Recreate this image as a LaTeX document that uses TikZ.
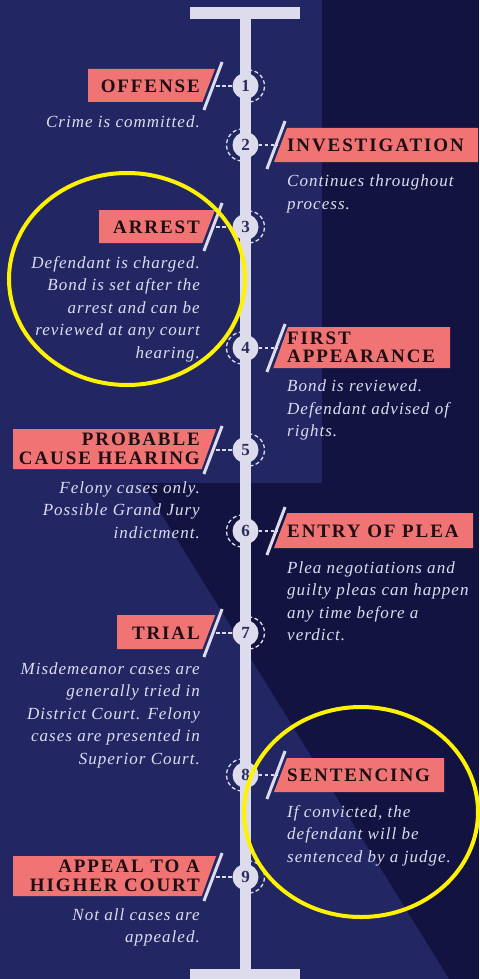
\documentclass[tikz,border=0pt]{standalone}
\usepackage{fontspec}
\setmainfont{Liberation Serif}
\newfontfamily\headfont[LetterSpace=10]{Liberation Serif}
\newfontfamily\descfont[LetterSpace=6]{Liberation Serif}
\definecolor{bgdark}{RGB}{18,19,64}
\definecolor{bglight}{RGB}{34,39,99}
\definecolor{salmon}{RGB}{240,116,116}
\definecolor{lav}{RGB}{220,220,236}
\definecolor{headtxt}{RGB}{30,14,20}
\definecolor{numtxt}{RGB}{42,44,94}
\definecolor{desctxt}{RGB}{221,221,240}
\definecolor{hiyellow}{RGB}{255,242,0}

\begin{document}
\begin{tikzpicture}[x=1pt, y=-1pt,
    stepnum/.style={circle, fill=lav, minimum size=26pt, inner sep=0pt, text=numtxt, font=\fontsize{17}{17}\selectfont\bfseries},
    ring/.style={draw=lav, line width=1.3pt, dash pattern=on 4pt off 2.5pt},
    link/.style={draw=lav, line width=1.4pt, dash pattern=on 3.5pt off 2.5pt},
    slashbar/.style={draw=lav, line width=3pt},
    headleft/.style={anchor=east, inner sep=0pt, align=right, text=headtxt, font=\headfont\fontsize{19}{18.5}\selectfont\bfseries},
    headright/.style={headleft, anchor=west, align=left},
    descleft/.style={anchor=north east, inner sep=0pt, align=right, text=desctxt, font=\descfont\fontsize{17}{22.5}\selectfont\itshape},
    descright/.style={descleft, anchor=north west, align=left},
    markring/.style={draw=hiyellow, line width=4pt}]
    \useasboundingbox (0,0) rectangle (479,979);

    % Background
    \fill[bgdark] (0,0) rectangle (479,979);
    \fill[bglight] (0,0) rectangle (322,483);
    \fill[bglight] (0,483) -- (142,483) -- (449,979) -- (0,979) -- cycle;

    % Timeline bar
    \fill[lav] (190,7) rectangle (300,19);
    \fill[lav] (240,19) rectangle (251,970);
    \fill[lav] (190,969) rectangle (300,979);

    % Boxes (left side)
    \fill[salmon] (88,69) -- (215,69) -- (202.4,102) -- (88,102) -- cycle;
    \fill[salmon] (99,210) -- (215,210) -- (202.4,243) -- (99,243) -- cycle;
    \fill[salmon] (13,429) -- (216.1,429) -- (201.7,469) -- (13,469) -- cycle;
    \fill[salmon] (117,615) -- (215.3,615) -- (202.4,649) -- (117,649) -- cycle;
    \fill[salmon] (13,856) -- (216.1,856) -- (201.7,896) -- (13,896) -- cycle;

    % Boxes (right side)
    \fill[salmon] (287,128) -- (478,128) -- (478,162) -- (274,162) -- cycle;
    \fill[salmon] (288.1,327) -- (450,327) -- (450,368) -- (273.3,368) -- cycle;
    \fill[salmon] (287.3,513) -- (473,513) -- (473,548) -- (274,548) -- cycle;
    \fill[salmon] (287,758) -- (444,758) -- (444,792) -- (274,792) -- cycle;

    % Slashes
    \draw[slashbar] (203.9,110) -- (222.1,62);
    \draw[slashbar] (266.9,169) -- (285.1,121);
    \draw[slashbar] (203.9,251) -- (222.1,203);
    \draw[slashbar] (266.9,372) -- (285.1,324);
    \draw[slashbar] (203.9,474) -- (222.1,426);
    \draw[slashbar] (266.9,555) -- (285.1,507);
    \draw[slashbar] (203.9,657) -- (222.1,609);
    \draw[slashbar] (266.9,799) -- (285.1,751);
    \draw[slashbar] (203.9,901) -- (222.1,853);

    % Steps
    \node[stepnum] (c1) at (245.5,86) {1};
    \node[stepnum] (c2) at (245.5,145) {2};
    \node[stepnum] (c3) at (245.5,227) {3};
    \node[stepnum] (c4) at (245.5,348) {4};
    \node[stepnum] (c5) at (245.5,450) {5};
    \node[stepnum] (c6) at (245.5,531) {6};
    \node[stepnum] (c7) at (245.5,633) {7};
    \node[stepnum] (c8) at (245.5,775) {8};
    \node[stepnum] (c9) at (245.5,877) {9};

    % Dashed rings
    \draw[ring] ([xshift=3pt]c1.center) ++(110:16) arc[start angle=110, end angle=-110, radius=16];
    \draw[ring] ([xshift=-3pt]c2.center) ++(70:16) arc[start angle=70, end angle=290, radius=16];
    \draw[ring] ([xshift=3pt]c3.center) ++(110:16) arc[start angle=110, end angle=-110, radius=16];
    \draw[ring] ([xshift=-3pt]c4.center) ++(70:16) arc[start angle=70, end angle=290, radius=16];
    \draw[ring] ([xshift=3pt]c5.center) ++(110:16) arc[start angle=110, end angle=-110, radius=16];
    \draw[ring] ([xshift=-3pt]c6.center) ++(70:16) arc[start angle=70, end angle=290, radius=16];
    \draw[ring] ([xshift=3pt]c7.center) ++(110:16) arc[start angle=110, end angle=-110, radius=16];
    \draw[ring] ([xshift=-3pt]c8.center) ++(70:16) arc[start angle=70, end angle=290, radius=16];
    \draw[ring] ([xshift=3pt]c9.center) ++(110:16) arc[start angle=110, end angle=-110, radius=16];

    % Connectors
    \coordinate (k1) at (216,86);
    \coordinate (k2) at (277,145);
    \coordinate (k3) at (216,227);
    \coordinate (k4) at (277,348);
    \coordinate (k5) at (216,450);
    \coordinate (k6) at (277,531);
    \coordinate (k7) at (216,633);
    \coordinate (k8) at (277,775);
    \coordinate (k9) at (216,877);
    \draw[link] (k1) -- (c1);
    \draw[link] (c2) -- (k2);
    \draw[link] (k3) -- (c3);
    \draw[link] (c4) -- (k4);
    \draw[link] (k5) -- (c5);
    \draw[link] (c6) -- (k6);
    \draw[link] (k7) -- (c7);
    \draw[link] (c8) -- (k8);
    \draw[link] (k9) -- (c9);

    % Labels
    \node[headleft] (h1) at (200,86) {OFFENSE};
    \node[headright] (h2) at (287,145) {INVESTIGATION};
    \node[headleft] (h3) at (200,227) {ARREST};
    \node[headright] (h4) at (287,347.5) {FIRST\\APPEARANCE};
    \node[headleft] (h5) at (200,449) {PROBABLE\\CAUSE HEARING};
    \node[headright] (h6) at (287,531) {ENTRY OF PLEA};
    \node[headleft] (h7) at (200,633) {TRIAL};
    \node[headright] (h8) at (287,775) {SENTENCING};
    \node[headleft] (h9) at (200,876) {APPEAL TO A\\HIGHER COURT};

    % Descriptions
    \node[descleft] (d1) at (200,116) {Crime is committed.};
    \node[descright] (d2) at (287,175) {Continues throughout\\process.};
    \node[descleft] (d3) at (200,256) {Defendant is charged.\\Bond is set after the\\arrest and can be\\reviewed at any court\\hearing.};
    \node[descright] (d4) at (287,380) {Bond is reviewed.\\Defendant advised of\\rights.};
    \node[descleft] (d5) at (200,481) {Felony cases only.\\Possible Grand Jury\\indictment.};
    \node[descright] (d6) at (287,561) {Plea negotiations and\\guilty pleas can happen\\any time before a\\verdict.};
    \node[descleft] (d7) at (200,662) {Misdemeanor cases are\\generally tried in\\District Court. Felony\\cases are presented in\\Superior Court.};
    \node[descright] (d8) at (287,805) {If convicted, the\\defendant will be\\sentenced by a judge.};
    \node[descleft] (d9) at (200,908) {Not all cases are\\appealed.};

    % Highlights
    \draw[markring] (127,279) ellipse [x radius=118, y radius=106];
    \draw[markring] (361,812) ellipse [x radius=117, y radius=105];
\end{tikzpicture}
\end{document}
